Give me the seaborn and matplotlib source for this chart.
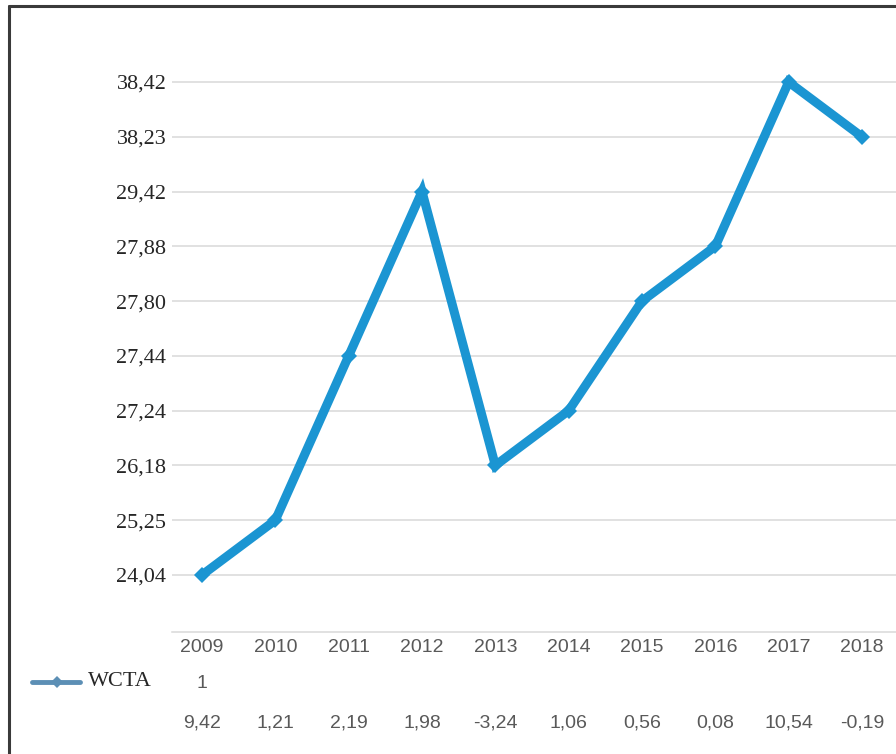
import matplotlib
matplotlib.use("Agg")
import matplotlib.pyplot as plt
from matplotlib.lines import Line2D
import seaborn as sns
import pandas as pd

years = ["2009", "2010", "2011", "2012", "2013", "2014", "2015", "2016", "2017", "2018"]
wcta = [24.04, 25.25, 27.44, 29.42, 26.18, 27.24, 27.80, 27.88, 38.42, 38.23]
changes = ["9,42", "1,21", "2,19", "1,98", "-3,24", "1,06", "0,56", "0,08", "10,54", "-0,19"]
series_name = "WCTA"
row_label = "1"

# y axis in the reference is ordinal: evenly spaced ticks of the distinct values
levels = sorted(set(wcta))
tick_labels = [f"{v:.2f}".replace(".", ",") for v in levels]
rank = {v: i for i, v in enumerate(levels)}

df = pd.DataFrame({"x": range(len(years)), "y": [rank[v] for v in wcta]})

W, H = 896, 754
fig = plt.figure(figsize=(W / 100, H / 100), dpi=100)
sns.set_style("white")

ax_left, ax_right, ax_top, ax_bottom = 172, 896, 30, 632
ax = fig.add_axes([ax_left / W, 1 - ax_bottom / H, (ax_right - ax_left) / W, (ax_bottom - ax_top) / H])

line_color = "#1b95d2"
sns.lineplot(data=df, x="x", y="y", ax=ax, color=line_color, linewidth=6.5,
             marker="D", markersize=8, markeredgewidth=0, solid_joinstyle="miter",
             zorder=3)

# x spacing: first point at 202px, last at 862px
x0, x9 = 202, 862
step = (x9 - x0) / 9
ax.set_xlim(-(x0 - ax_left) / step, 9 + (ax_right - x9) / step)
ystep = (575 - 82) / 9
ax.set_ylim(-(ax_bottom - 575) / ystep, 9 + (82 - ax_top) / ystep)

ax.set_yticks(range(len(levels)))
ax.set_yticklabels(tick_labels, fontfamily="Liberation Serif", fontsize=16, color="#262626")
ax.set_xticks([])
ax.set_xlabel("")
ax.set_ylabel("")
ax.tick_params(axis="y", length=0, pad=4)
for y in range(len(levels)):
    ax.axhline(y, color="#d9d9d9", linewidth=1.1, zorder=1)
for s in ["top", "right", "left"]:
    ax.spines[s].set_visible(False)
ax.spines["bottom"].set_color("#d9d9d9")
ax.spines["bottom"].set_linewidth(1.1)

# data table below the chart
def fx(px):
    return px / W

def fy(py):
    return 1 - py / H

tfont = dict(fontsize=14, fontfamily="Liberation Sans", color="#595959")
for i, (yr, ch) in enumerate(zip(years, changes)):
    xp = x0 + i * step
    fig.text(fx(xp), fy(647), yr, ha="center", va="center", **tfont)
    fig.text(fx(xp), fy(723), ch, ha="center", va="center", **tfont)
fig.text(fx(x0), fy(684), row_label, ha="center", va="center", **tfont)

# legend key
fig.add_artist(Line2D([fx(32), fx(80)], [fy(682), fy(682)], color="#5c8fb5", linewidth=3.5))
fig.add_artist(Line2D([fx(57)], [fy(682)], color="#5c8fb5", marker="D", markersize=6,
                      markeredgewidth=0, linestyle="none"))
fig.text(fx(88), fy(682), series_name, ha="left", va="center", fontsize=16,
         fontfamily="Liberation Serif", color="#262626")

# outer frame (left and top edges visible)
fig.add_artist(Line2D([fx(9), fx(9)], [fy(6), 0], color="#3a3a3a", linewidth=2.2))
fig.add_artist(Line2D([fx(9), 1], [fy(6), fy(6)], color="#3a3a3a", linewidth=2.2))

fig.savefig("out.png", dpi=100)
